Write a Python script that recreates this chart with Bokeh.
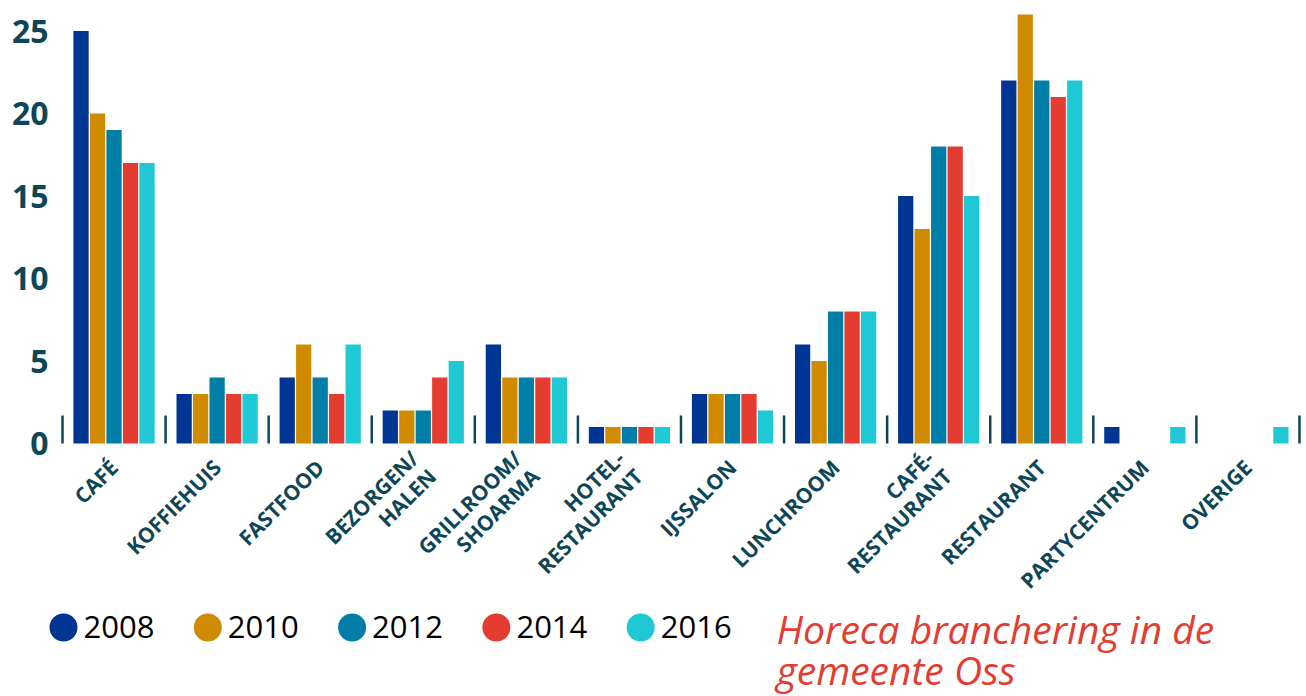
import math
from bokeh.plotting import figure
from bokeh.models import FixedTicker, ColumnDataSource, Range1d
from bokeh.core.properties import value
from bokeh.embed import file_html
from bokeh.resources import INLINE

categories = ["CAFÉ", "KOFFIEHUIS", "FASTFOOD", "BEZORGEN/\nHALEN", "GRILLROOM/\nSHOARMA",
              "HOTEL-\nRESTAURANT", "IJSSALON", "LUNCHROOM", "CAFÉ-\nRESTAURANT",
              "RESTAURANT", "PARTYCENTRUM", "OVERIGE"]
years = ["2008", "2010", "2012", "2014", "2016"]
v2008 = [25, 3, 4, 2, 6, 1, 3, 6, 15, 22, 1, 0]
v2010 = [20, 3, 6, 2, 4, 1, 3, 5, 13, 26, 0, 0]
v2012 = [19, 4, 4, 2, 4, 1, 3, 8, 18, 22, 0, 0]
v2014 = [17, 3, 3, 4, 4, 1, 3, 8, 18, 21, 0, 0]
v2016 = [17, 3, 6, 5, 4, 1, 2, 8, 15, 22, 1, 1]
y_ticks = [0, 5, 10, 15, 20, 25]
title_lines = ["Horeca branchering in de", "gemeente Oss"]

series = [v2008, v2010, v2012, v2014, v2016]
colors = ["#003594", "#d08a00", "#007ea7", "#e43c30", "#1ec8d4"]
ink = "#0d4657"

# ---- layout geometry (pixels) ----
W, H = 1306, 696
FT = 10                  # frame top
AXIS_PX = 56             # pixel column of the value axis
BASE = 443               # pixel row of value 0
UX = 103.08              # pixels per category
UY = 16.5                # pixels per unit value
X0 = -0.5582 - AXIS_PX / UX   # data x at pixel column 0
x_end = X0 + W / UX
y_end = (BASE - FT) / UY
y_start = -(H - BASE) / UY


def px2x(px):
    return X0 + px / UX


def py2y(py):
    return (BASE - py) / UY


p = figure(width=W, height=H, output_backend="svg", toolbar_location=None,
           title=None, x_range=Range1d(X0, x_end), y_range=Range1d(y_start, y_end),
           min_border_left=0, min_border_right=0, min_border_top=FT, min_border_bottom=0)
p.outline_line_color = None
p.xgrid.grid_line_color = None
p.ygrid.grid_line_color = None

xs = list(range(len(categories)))
step = 0.16
for k, (vals, col) in enumerate(zip(series, colors)):
    src = ColumnDataSource(dict(x=[i + (k - 2) * step for i in xs], top=vals))
    p.vbar(x="x", top="top", bottom=0, width=0.148, source=src,
           fill_color=col, line_color=None)

# category separators
seps = [i - 0.5 for i in range(len(categories) + 1)]
p.segment(x0=seps, x1=seps, y0=[0] * len(seps), y1=[1.7] * len(seps),
          line_color=ink, line_width=2.5)

ya = p.yaxis[0]
ya.fixed_location = px2x(AXIS_PX)
ya.ticker = FixedTicker(ticks=y_ticks)
ya.axis_line_color = None
ya.major_tick_line_color = None
ya.minor_tick_line_color = None
ya.major_label_text_font = "Open Sans"
ya.major_label_text_font_style = "bold"
ya.major_label_text_font_size = "32px"
ya.major_label_text_color = ink
ya.major_label_standoff = 2

xa = p.xaxis[0]
xa.fixed_location = 0
xa.ticker = FixedTicker(ticks=xs)
xa.major_label_overrides = {i: c for i, c in enumerate(categories)}
xa.major_label_orientation = math.pi / 4
xa.axis_line_color = None
xa.major_tick_line_color = None
xa.minor_tick_line_color = None
xa.major_label_text_font = "Open Sans"
xa.major_label_text_font_style = "bold"
xa.major_label_text_font_size = "21px"
xa.major_label_text_line_height = 0.9
xa.major_label_text_color = ink
xa.major_label_standoff = 14

# legend (circles + years)
leg_px = [63 + k * 144.3 for k in range(len(years))]
p.scatter(x=[px2x(c) for c in leg_px], y=[py2y(627)] * len(years), marker="circle",
          size=28, fill_color=colors, line_color=None)
p.text(x=[px2x(c + 20) for c in leg_px], y=[py2y(626)] * len(years), text=years,
       text_font=value("Open Sans"), text_font_size="31px", text_color="black",
       text_baseline="alphabetic", text_align="left")

# title
p.text(x=[px2x(776)] * 2, y=[py2y(628), py2y(669)], text=title_lines,
       text_font=value("Open Sans"), text_font_style="italic", text_font_size="39px",
       text_color="#e43c30", text_baseline="alphabetic", text_align="left")

open("out.html", "w").write(file_html(p, INLINE))
